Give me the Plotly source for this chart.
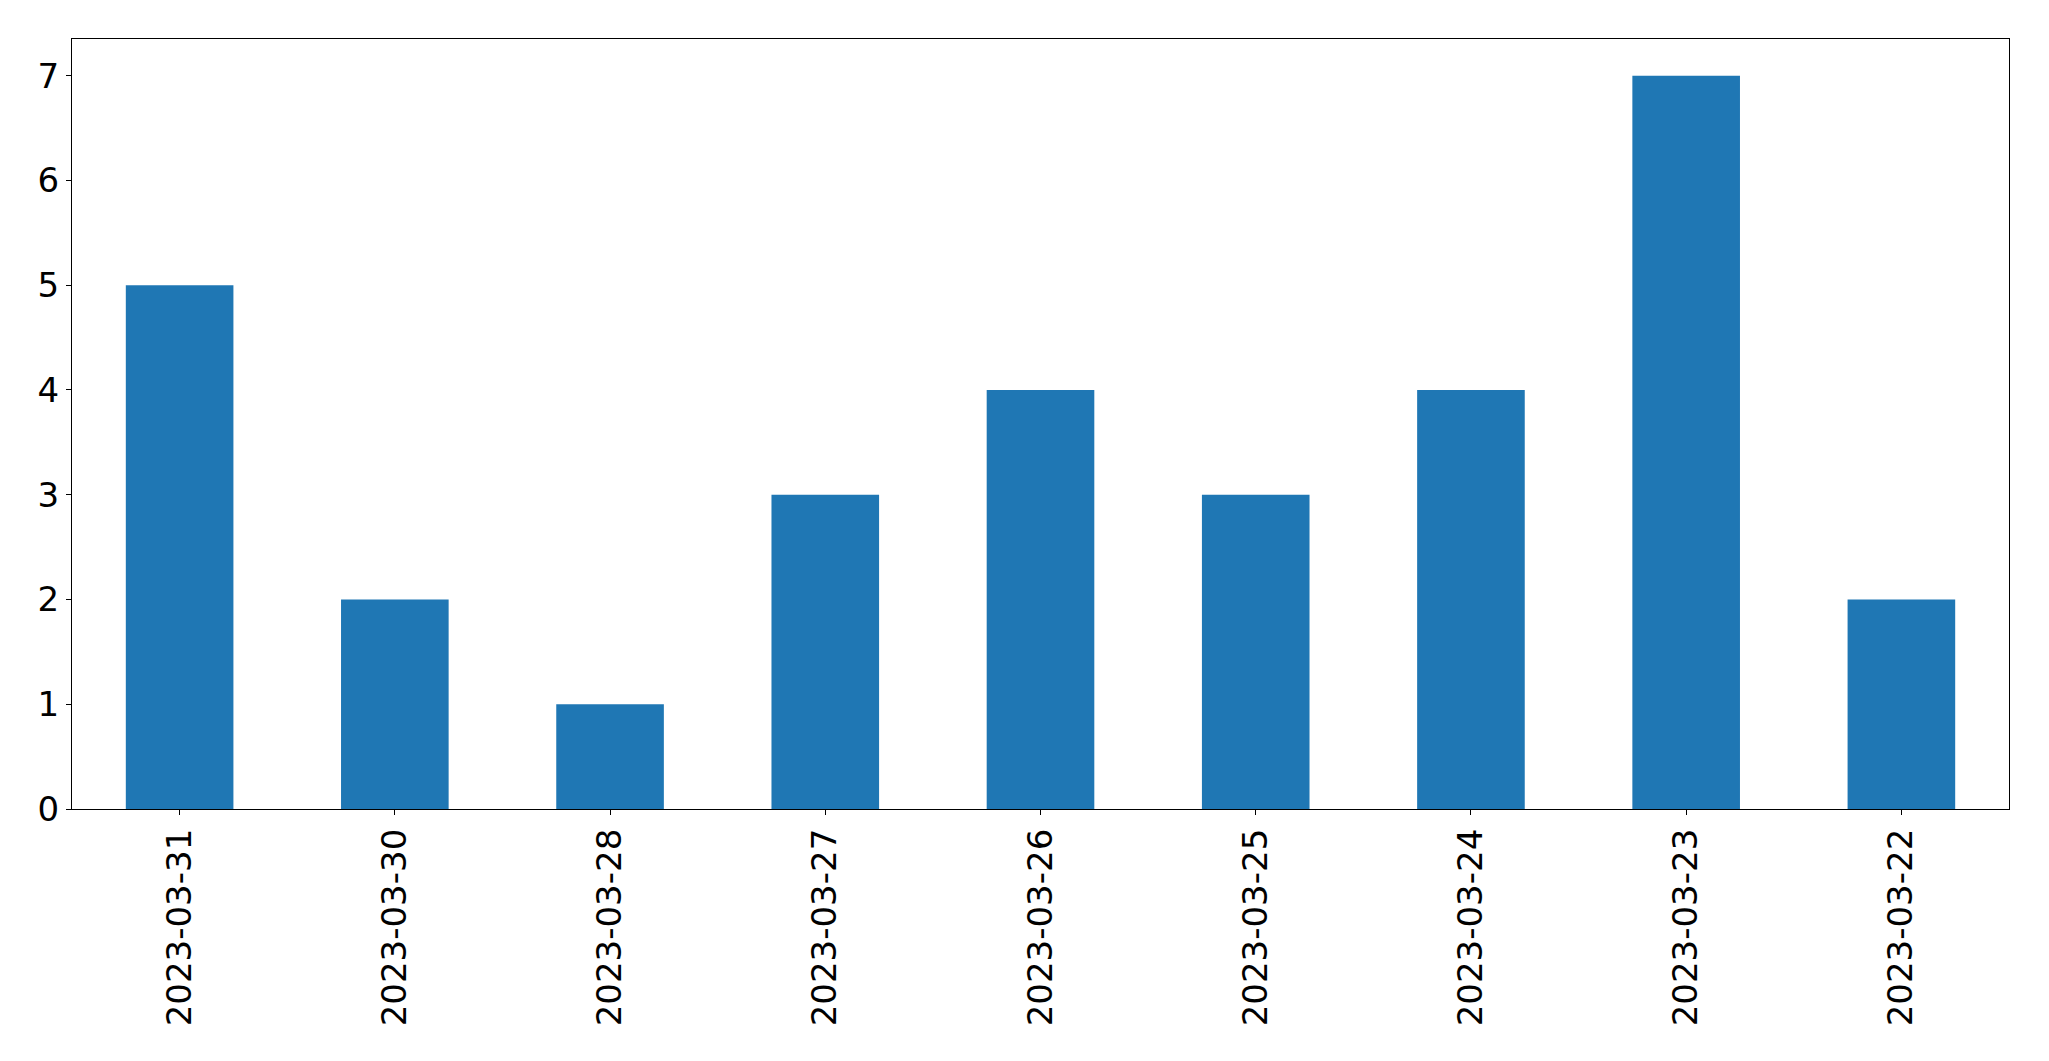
import plotly.graph_objects as go

dates = ["2023-03-31", "2023-03-30", "2023-03-28", "2023-03-27", "2023-03-26",
         "2023-03-25", "2023-03-24", "2023-03-23", "2023-03-22"]
counts = [5, 2, 1, 3, 4, 3, 4, 7, 2]
y_ticks = [0, 1, 2, 3, 4, 5, 6, 7]

fig = go.Figure(go.Bar(x=dates, y=counts, marker_color="#1f77b4",
                       marker_line_width=0, width=0.5))

fig.update_layout(
    width=2049, height=1061,
    margin=dict(l=72, r=40, t=39, b=252),
    paper_bgcolor="white", plot_bgcolor="white",
    font=dict(family="DejaVu Sans", size=34, color="black"),
    showlegend=False, bargap=0.5,
)
fig.update_xaxes(type="category", range=[-0.5, len(dates) - 0.5],
                 tickangle=-90, ticks="outside", ticklen=5, tickwidth=1.3,
                 tickcolor="black", showline=True, linecolor="black", linewidth=1.3,
                 mirror=True, showgrid=False, zeroline=False,
                 tickfont=dict(family="DejaVu Sans", size=34, color="black"))
fig.update_yaxes(range=[0, 7.35], tickvals=y_ticks, ticks="outside", ticklen=5,
                 tickwidth=1.3, tickcolor="black", showline=True, linecolor="black",
                 linewidth=1.3, mirror=True, showgrid=False, zeroline=False,
                 tickfont=dict(family="DejaVu Sans", size=34, color="black"))

fig.write_html("out.html")
